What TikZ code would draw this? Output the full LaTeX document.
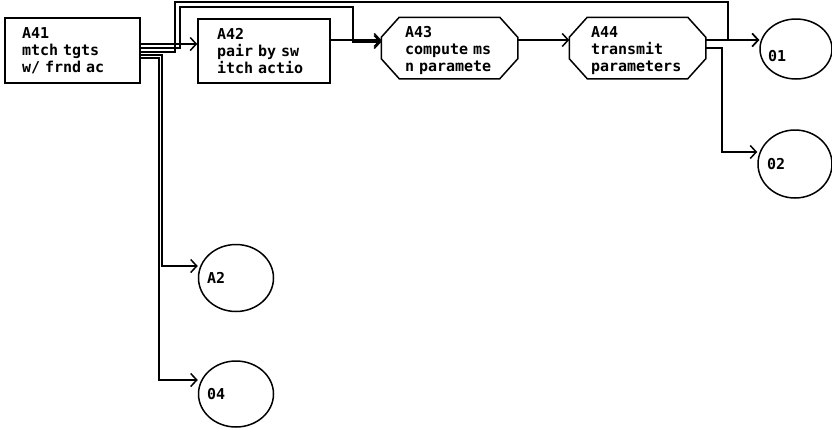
\documentclass[tikz,border=0pt]{standalone}
\usepackage{fontspec}
\newfontfamily\dfont{DejaVu Sans Mono}
\newcommand\dtxtfont{\dfont\bfseries\fontsize{15}{17}\selectfont\spaceskip=9.03pt plus 0pt minus 0pt\relax}
\usetikzlibrary{shapes.geometric,arrows.meta}
\begin{document}
\begin{tikzpicture}[x=1pt,y=-1pt,
  every path/.style={line width=1.5pt},
  boxnode/.style={draw,rectangle,inner sep=0pt},
  anchornode/.style={rectangle,inner sep=0pt},
  circnode/.style={draw,ellipse,inner sep=0pt},
  txt/.style={inner sep=0pt,align=left,font=\dtxtfont},
  arr/.style={-{Straight Barb[length=6pt,width=13pt]}}]
\useasboundingbox (0,0) rectangle (832,429);
% shapes
\node[boxnode,minimum width=135pt,minimum height=65pt] (a41) at (72.5,50.5) {};
\node[boxnode,minimum width=132pt,minimum height=64pt] (a42) at (264,51) {};
\node[anchornode,minimum width=135pt,minimum height=60pt] (a43) at (449.5,48) {};
\node[anchornode,minimum width=135pt,minimum height=60pt] (a44) at (637.5,48) {};
\foreach \n in {a43,a44}{
  \draw ([xshift=18pt]\n.north west) -- ([xshift=-18pt]\n.north east)
     -- ([yshift=-20pt]\n.north east) -- ([yshift=20pt]\n.south east)
     -- ([xshift=-18pt]\n.south east) -- ([xshift=18pt]\n.south west)
     -- ([yshift=20pt]\n.south west) -- ([yshift=-20pt]\n.north west) -- cycle;
}
\node[circnode,minimum width=72pt,minimum height=60pt] (o1) at (796,49) {};
\node[circnode,minimum width=74pt,minimum height=68pt] (o2) at (795,164) {};
\node[circnode,minimum width=75pt,minimum height=67pt] (a2) at (236,278) {};
\node[circnode,minimum width=75pt,minimum height=66pt] (o4) at (236,394) {};
% texts
\node[txt,text width=101pt] (a41t) at (a41) {A41\\mtch tgts\\w/ frnd ac};
\node[txt,text width=94pt] (a42t) at (a42) {A42\\pair by sw\\itch actio};
\node[txt,text width=89pt] (a43t) at ([yshift=-2pt]a43.center) {A43\\compute ms\\n paramete};
\node[txt,text width=93pt] (a44t) at ([yshift=-3pt]a44.center) {A44\\transmit\\parameters};
\node[txt,text width=56pt] (o1t) at (796,56) {01};
\node[txt,text width=56pt] (o2t) at (o2) {02};
\node[txt,text width=58pt] (a2t) at (a2) {A2};
\node[txt,text width=58pt] (o4t) at (o4) {04};
% corner coordinates
\coordinate (k2a) at (180,7);
\coordinate (k2b) at (353,42);
\coordinate (k3a) at (175,2);
\coordinate (k3b) at (728,40);
\coordinate (k4) at (162,266);
\coordinate (k5) at (159,380);
\coordinate (k6) at (722,152);
% connectors
\draw[arr] (a41.east |- 0,44) -- (a42.west |- 0,44);
\draw[arr] (a41.east |- 0,48) -| (k2a) -| (k2b) -- (a43.west |- k2b);
\draw[arr] (a41.east |- 0,52) -| (k3a) -| (k3b) -- (o1.west |- k3b);
\draw[arr] (a41.east |- 0,55) -| (k4) -- (a2.west |- k4);
\draw[arr] (a41.east |- 0,58) -| (k5) -- (o4.west |- k5);
\draw[arr] (a42.east |- 0,40) -- (a43.west |- 0,40);
\draw[arr] (a43.east |- 0,40) -- (a44.west |- 0,40);
\draw[arr] (a44.east |- 0,40) -- (o1.west |- 0,40);
\draw[arr] (a44.east |- 0,48) -| (k6) -- (o2.west |- k6);
\end{tikzpicture}
\end{document}
